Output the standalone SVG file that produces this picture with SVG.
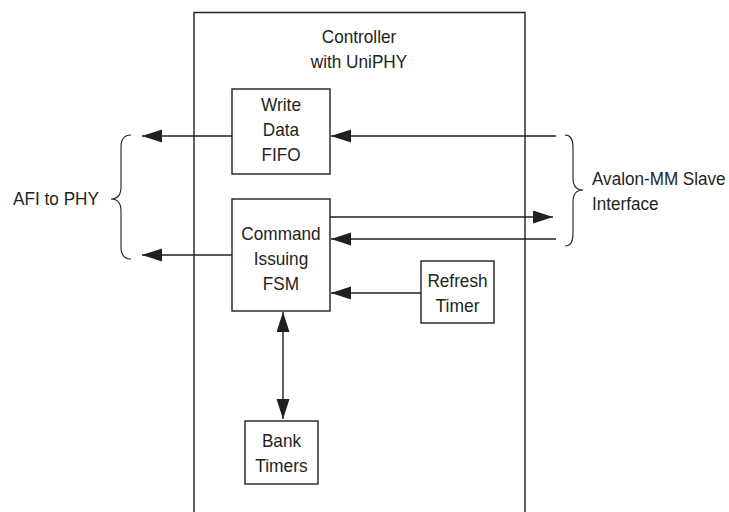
<svg xmlns="http://www.w3.org/2000/svg" width="729" height="512" viewBox="0 0 729 512">
<defs>
<style>
.box{fill:#fff;stroke:#231f20;stroke-width:1.4}
.ln{fill:none;stroke:#231f20;stroke-width:1.4}
.br{fill:none;stroke:#231f20;stroke-width:1.1}
.t{font-family:"Liberation Sans",Arial,sans-serif;font-size:19px;fill:#231f20;text-anchor:middle}
.s{text-anchor:start}
.e{text-anchor:end}
</style>
<marker id="ah" markerUnits="userSpaceOnUse" markerWidth="21" markerHeight="14" refX="20" refY="6.5" orient="auto-start-reverse">
<path d="M0,0 L20,6.5 L0,13 z" fill="#231f20"/>
</marker>
</defs>
<rect width="729" height="512" fill="#fff"/>
<g id="controller">
<path class="ln" d="M194,520 L194,12.5 L525,12.5 L525,520"/>
<text class="t" x="359" y="43" textLength="74.5" lengthAdjust="spacingAndGlyphs">Controller</text>
<text class="t" x="359" y="68" textLength="96.5" lengthAdjust="spacingAndGlyphs">with UniPHY</text>
</g>
<g id="connectors">
<line class="ln" x1="232" y1="136" x2="142" y2="136" marker-end="url(#ah)"/>
<line class="ln" x1="232" y1="255" x2="142" y2="255" marker-end="url(#ah)"/>
<line class="ln" x1="556" y1="136" x2="331" y2="136" marker-end="url(#ah)"/>
<line class="ln" x1="330" y1="217" x2="553" y2="217" marker-end="url(#ah)"/>
<line class="ln" x1="556" y1="239" x2="331" y2="239" marker-end="url(#ah)"/>
<line class="ln" x1="421" y1="293" x2="331" y2="293" marker-end="url(#ah)"/>
<line class="ln" x1="283" y1="312" x2="283" y2="419" marker-start="url(#ah)" marker-end="url(#ah)"/>
</g>
<g id="write-fifo">
<rect class="box" x="232" y="89" width="98" height="85"/>
<text class="t" x="281" y="111" textLength="40.1" lengthAdjust="spacingAndGlyphs">Write</text>
<text class="t" x="281" y="136" textLength="36.3" lengthAdjust="spacingAndGlyphs">Data</text>
<text class="t" x="281" y="161" textLength="39.2" lengthAdjust="spacingAndGlyphs">FIFO</text>
</g>
<g id="cmd-fsm">
<rect class="box" x="232" y="199" width="98" height="112"/>
<text class="t" x="281" y="240" textLength="79.3" lengthAdjust="spacingAndGlyphs">Command</text>
<text class="t" x="281" y="265" textLength="54.5" lengthAdjust="spacingAndGlyphs">Issuing</text>
<text class="t" x="281" y="290" textLength="36.3" lengthAdjust="spacingAndGlyphs">FSM</text>
</g>
<g id="refresh-timer">
<rect class="box" x="421" y="261" width="73" height="62"/>
<text class="t" x="457.5" y="287" textLength="60.2" lengthAdjust="spacingAndGlyphs">Refresh</text>
<text class="t" x="457.5" y="312" textLength="43.9" lengthAdjust="spacingAndGlyphs">Timer</text>
</g>
<g id="bank-timers">
<rect class="box" x="245" y="421" width="73" height="63"/>
<text class="t" x="281.5" y="447" textLength="39.2" lengthAdjust="spacingAndGlyphs">Bank</text>
<text class="t" x="281.5" y="472" textLength="52.5" lengthAdjust="spacingAndGlyphs">Timers</text>
</g>
<g id="afi">
<path class="br" d="M131,135 C124,135 121,139 121,147 L121,187 C121,195 117,199 111,199 C117,199 121,203 121,211 L121,247 C121,255 124,259 131,259"/>
<text class="t e" x="99" y="205" textLength="86" lengthAdjust="spacingAndGlyphs">AFI to PHY</text>
</g>
<g id="avalon">
<path class="br" d="M565,135 C570,135 573,139 573,147 L573,178 C573,186 577,190 583,190 C577,190 573,194 573,202 L573,234 C573,242 570,246 565,246"/>
<g transform="translate(592,0) scale(0.925,1)">
<text class="t s" x="0" y="185" style="font-size:18.5px">Avalon-MM Slave</text>
<text class="t s" x="0" y="210" style="font-size:18.5px">Interface</text>
</g>
</g>
</svg>
